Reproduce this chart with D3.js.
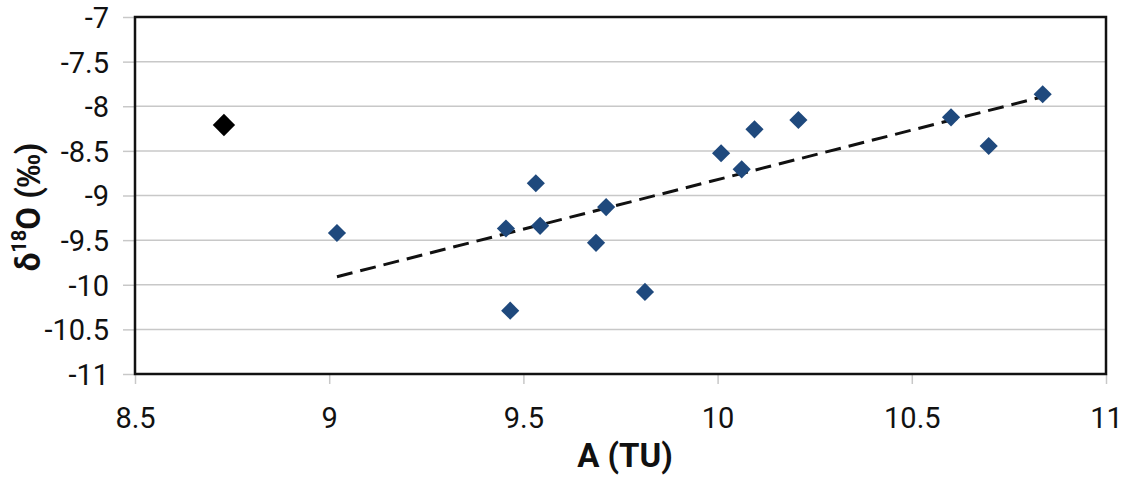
<!DOCTYPE html>
<html lang="en">
<head>
<meta charset="utf-8">
<title>d18O vs A</title>
<script src="https://cdn.jsdelivr.net/npm/d3@7"></script>
<style>
  body { margin: 0; background: #fff; }
  .tick text { font-family: Roboto, "Liberation Sans", Arial, sans-serif; fill: #111; }
</style>
</head>
<body>
<svg width="1127" height="478"></svg>
<script>
// data
var xTicks = [8.5, 9, 9.5, 10, 10.5, 11];
var yTicks = [-7, -7.5, -8, -8.5, -9, -9.5, -10, -10.5, -11];

var blueA = [9.02, 9.532, 9.455, 9.543, 9.713, 9.687, 9.466, 9.813, 10.009, 10.062, 10.095, 10.208, 10.601, 10.698, 10.837];
var blueD = [-9.42, -8.863, -9.37, -9.34, -9.13, -9.53, -10.29, -10.08, -8.527, -8.707, -8.259, -8.154, -8.124, -8.445, -7.866];

var outlierA = [8.729];
var outlierD = [-8.21];

var trendA = [9.02, 10.84];
var trendD = [-9.91, -7.89];

var svg = d3.select("svg"),
    margin = {left: 135, top: 17, right: 21, bottom: 104},
    width = svg.attr("width") - margin.left - margin.right,
    height = svg.attr("height") - margin.top - margin.bottom;

var x = d3.scaleLinear().domain([8.5, 11]).range([0, width]),
    y = d3.scaleLinear().domain([-11, -7]).range([height, 0]);

var g = svg.append("g")
    .attr("transform", "translate(" + margin.left + "," + margin.top + ")");

// horizontal gridlines
g.selectAll(".grid")
  .data(yTicks)
  .enter().append("line")
  .attr("x1", 0)
  .attr("x2", width)
  .attr("y1", function(d) { return y(d); })
  .attr("y2", function(d) { return y(d); })
  .attr("stroke", "#c8c8c8")
  .attr("stroke-width", 1.5);

// axes
var yAxis = g.append("g")
  .call(d3.axisLeft(y).tickValues(yTicks).tickSize(12).tickPadding(14)
    .tickFormat(function(d) { return d; }));
var xAxis = g.append("g")
  .attr("transform", "translate(0," + height + ")")
  .call(d3.axisBottom(x).tickValues(xTicks).tickSize(10).tickPadding(23)
    .tickFormat(function(d) { return d; }));

[yAxis, xAxis].forEach(function(a) {
  a.select(".domain").remove();
  a.selectAll(".tick line").attr("stroke", "#c8c8c8").attr("stroke-width", 1.5);
  a.selectAll(".tick text").attr("font-size", "29px");
});
yAxis.selectAll(".tick text").attr("dy", "0.36em");

// plot frame
g.append("rect")
  .attr("x", 0).attr("y", 0)
  .attr("width", width).attr("height", height)
  .attr("fill", "none")
  .attr("stroke", "#111")
  .attr("stroke-width", 2.5);

// trendline
var line = d3.line()
  .x(function(d) { return x(d[0]); })
  .y(function(d) { return y(d[1]); });

g.append("path")
  .datum(d3.zip(trendA, trendD))
  .attr("d", line)
  .attr("fill", "none")
  .attr("stroke", "#111")
  .attr("stroke-width", 3)
  .attr("stroke-dasharray", "16,8");

// points
var diamond = d3.symbol().type(d3.symbolSquare);

g.selectAll(".pt")
  .data(d3.zip(blueA, blueD))
  .enter().append("path")
  .attr("class", "pt")
  .attr("d", diamond.size(165)())
  .attr("fill", "#1f497d")
  .attr("transform", function(d) {
    return "translate(" + x(d[0]) + "," + y(d[1]) + ") rotate(45)";
  });

g.selectAll(".out")
  .data(d3.zip(outlierA, outlierD))
  .enter().append("path")
  .attr("class", "out")
  .attr("d", diamond.size(250)())
  .attr("fill", "#000")
  .attr("transform", function(d) {
    return "translate(" + x(d[0]) + "," + y(d[1]) + ") rotate(45)";
  });

// axis titles
svg.append("text")
  .attr("x", 625)
  .attr("y", 467)
  .attr("text-anchor", "middle")
  .attr("font-family", "Roboto, 'Liberation Sans', Arial, sans-serif")
  .attr("font-weight", "bold")
  .attr("font-size", "33px")
  .attr("fill", "#111")
  .text("A (TU)");

var yt = svg.append("text")
  .attr("transform", "translate(40,207) rotate(-90)")
  .attr("text-anchor", "middle")
  .attr("font-family", "Roboto, 'Liberation Sans', Arial, sans-serif")
  .attr("font-weight", "bold")
  .attr("font-size", "33px")
  .attr("fill", "#111");
yt.append("tspan").text("δ");
yt.append("tspan").attr("font-size", "20px").attr("dy", "-0.7em").text("18");
yt.append("tspan").attr("dy", "0.42em").text("O (");
yt.append("tspan").attr("font-family", "'Liberation Sans', Arial, sans-serif").text("‰");
yt.append("tspan").text(")");
</script>
</body>
</html>
